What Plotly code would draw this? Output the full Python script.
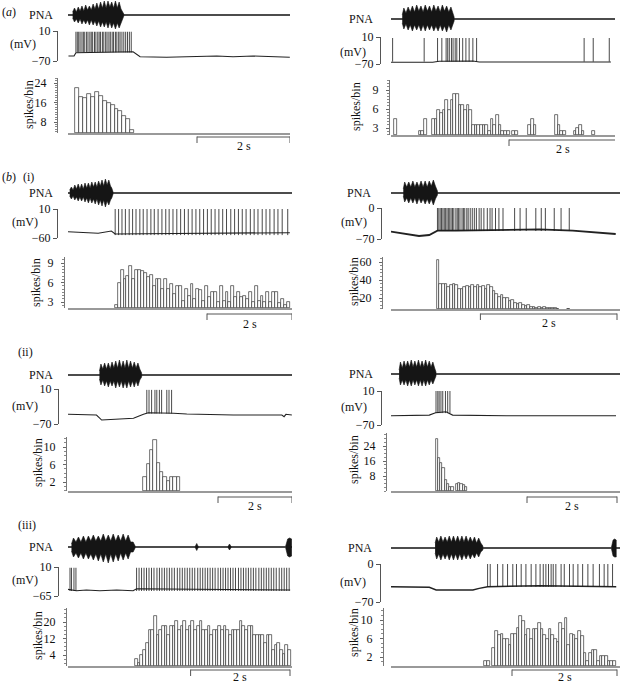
import plotly.graph_objects as go

# ======================= DATA =======================
# time in s, membrane potential in mV, PNA in arbitrary units, histogram in spikes/bin

# ---------- (a) left ----------
aL_pna_t  = [[0.10, 0.14, 0.18, 0.22, 0.26, 0.30, 0.34, 0.38, 0.42, 0.46, 0.50, 0.54, 0.58, 0.62, 0.66,
              0.70, 0.74, 0.78, 0.82, 0.86, 0.90, 0.94, 0.98, 1.02, 1.06, 1.10, 1.14, 1.17, 1.20]]
aL_pna_hi = [[3, 7, 3, 8, 4, 9, 4, 10, 5, 9, 5, 11, 6, 12, 6, 13, 7, 14, 7, 14, 8, 13, 7, 14, 7, 13, 6, 4, 1]]
aL_pna_lo = [[-3, -7, -4, -8, -4, -9, -5, -9, -5, -10, -5, -10, -6, -11, -6, -12, -7, -12, -7, -13, -7, -13,
              -8, -14, -8, -13, -7, -5, -1]]
aL_vm_t = [0.01, 0.13, 0.17, 1.40, 1.55, 2.12, 3.20, 3.55, 3.98, 4.77]
aL_vm_v = [-56.7, -56.7, -47.9, -45.2, -58.5, -60.1, -56.7, -58.5, -56.7, -60.1]
aL_spikes = [0.17, 0.20, 0.23, 0.26, 0.30, 0.33, 0.36, 0.40, 0.43, 0.47, 0.50, 0.53, 0.57, 0.60, 0.64,
             0.67, 0.70, 0.74, 0.77, 0.81, 0.84, 0.88, 0.91, 0.95, 0.98, 1.02, 1.05, 1.09, 1.12, 1.16,
             1.20, 1.24, 1.28, 1.32, 1.36]
aL_spike_base, aL_spike_peak = -47, 8
aL_hist_t0, aL_hist_w = 0.15, 0.085
aL_hist = [22.1, 18.1, 17.8, 19.5, 18.1, 20.4, 18.5, 16.8, 16.0, 14.9, 13.5, 12.5, 10.6, 9.2, 4.8]
aL_vm_ticks = [10, -70]
aL_hist_ticks = [8, 16, 24]

# ---------- (a) right ----------
aR_pna_t  = [[0.21, 0.24, 0.28, 0.32, 0.36, 0.40, 0.44, 0.48, 0.52, 0.56, 0.60, 0.64, 0.68, 0.72, 0.76,
              0.80, 0.84, 0.88, 0.92, 0.96, 1.00, 1.04, 1.08, 1.12, 1.15, 1.18]]
aR_pna_hi = [[4, 11, 6, 12, 7, 13, 7, 14, 8, 13, 7, 14, 8, 13, 7, 14, 8, 13, 7, 14, 8, 13, 7, 12, 7, 2]]
aR_pna_lo = [[-4, -10, -5, -11, -6, -12, -6, -11, -6, -12, -6, -12, -6, -11, -6, -12, -7, -12, -6, -12,
              -7, -13, -6, -11, -6, -2]]
aR_vm_t = [0.00, 0.78, 0.90, 1.53, 1.65, 2.77, 4.11]
aR_vm_v = [-65, -65, -62, -61, -64, -65, -64]
aR_spikes = [0.03, 0.62, 0.87, 0.95, 1.03, 1.06, 1.09, 1.13, 1.16, 1.20, 1.23, 1.28, 1.34, 1.40,
             1.46, 1.53, 1.60, 3.61, 3.78, 4.08]
aR_spike_base, aR_spike_peak = -63, 7
aR_hist_t0, aR_hist_w = 0.015, 0.05
aR_hist = [0, 4.4, 0, 0, 0, 0, 0, 0, 0, 0,
           2.6, 2.6, 4.4, 0, 0, 4.4, 4.4, 5.9, 5.3, 5.9,
           7.4, 5.9, 7.4, 8.3, 8.3, 6.7, 6.7, 5.9, 6.7, 5.9,
           3.5, 3.5, 3.5, 3.5, 3.5, 3.5, 2.6, 4.4, 3.5, 5.1,
           3.5, 2.6, 2.6, 2.6, 0, 2.6, 2.6, 0, 0, 0,
           0, 3.5, 4.4, 3.5, 0, 0, 0, 0, 0, 0,
           0, 5.1, 3.5, 2.6, 2.6, 0, 0, 0, 2.6, 3.0,
           3.5, 2.6, 0, 0, 0, 2.6, 0, 0, 0, 0, 0]
aR_vm_ticks = [10, -70]
aR_hist_ticks = [3, 6, 9]

# ---------- (b)(i) left ----------
biL_pna_t  = [[0.04, 0.08, 0.12, 0.16, 0.20, 0.24, 0.28, 0.32, 0.36, 0.40, 0.44, 0.48, 0.52, 0.56,
               0.60, 0.64, 0.68, 0.72, 0.76, 0.80, 0.84, 0.88, 0.92, 0.96, 1.00, 1.03, 1.06]]
biL_pna_hi = [[3, 6, 3, 8, 4, 9, 4, 9, 4, 10, 5, 10, 5, 11, 6, 11, 6, 12, 7, 13, 7, 14, 8, 13, 7, 5, 1]]
biL_pna_lo = [[-3, -6, -3, -7, -4, -8, -4, -8, -4, -9, -5, -10, -5, -10, -6, -11, -6, -12, -7, -13,
               -7, -14, -8, -12, -7, -5, -1]]
biL_vm_t = [0.00, 0.31, 0.71, 1.02, 1.11, 2.50, 4.00, 5.22]
biL_vm_v = [-44.8, -47.2, -48.6, -43.1, -50.3, -49.0, -49.0, -47.2]
biL_spikes = [1.11, 1.19, 1.27, 1.35, 1.44, 1.52, 1.60, 1.69, 1.77, 1.86, 1.95, 2.03, 2.12, 2.21,
              2.30, 2.38, 2.47, 2.56, 2.65, 2.74, 2.83, 2.92, 3.01, 3.10, 3.19, 3.28, 3.37, 3.46,
              3.55, 3.64, 3.73, 3.83, 3.92, 4.01, 4.10, 4.19, 4.29, 4.38, 4.47, 4.57, 4.66, 4.75,
              4.85, 4.94, 5.04, 5.17]
biL_spike_base, biL_spike_peak = -53, 10
biL_hist_t0, biL_hist_w = 1.10, 0.0686
biL_hist = [2.5, 6.0, 8.0, 6.5, 7.0, 8.5, 6.5, 8.0, 8.0, 7.8, 7.5, 6.8, 7.2, 5.5, 6.5, 6.5, 5.0, 6.5,
            5.0, 5.8, 4.2, 5.5, 5.5, 3.2, 5.0, 4.0, 5.8, 3.5, 5.0, 4.8, 3.2, 5.5, 3.8, 4.5, 4.5, 3.0,
            5.5, 3.2, 4.5, 3.0, 5.5, 3.8, 4.5, 3.8, 4.0, 3.5, 4.5, 3.0, 5.5, 3.2, 4.0, 3.0, 4.5, 3.0,
            4.5, 4.5, 2.8, 3.5, 2.5, 3.0]
biL_vm_ticks = [10, -60]
biL_hist_ticks = [3, 6, 9]

# ---------- (b)(i) right ----------
biR_pna_t  = [[0.18, 0.20, 0.23, 0.26, 0.29, 0.32, 0.35, 0.38, 0.41, 0.44, 0.47, 0.50, 0.53, 0.56,
               0.59, 0.62, 0.65, 0.68]]
biR_pna_hi = [[4, 11, 6, 11, 6, 12, 6, 11, 6, 12, 6, 12, 6, 12, 7, 13, 7, 2]]
biR_pna_lo = [[-3, -9, -5, -10, -5, -10, -5, -11, -5, -10, -6, -11, -6, -11, -6, -12, -6, -2]]
biR_vm_t = [0.00, 0.22, 0.41, 0.56, 0.68, 0.95, 1.44, 2.17, 2.66, 3.29]
biR_vm_v = [-53.5, -58.7, -63.2, -61.0, -51.3, -51.3, -49.7, -48.1, -51.3, -58.7]
biR_spikes = [0.68, 0.70, 0.72, 0.74, 0.76, 0.78, 0.80, 0.82, 0.84, 0.86, 0.88, 0.90, 0.92, 0.95,
              0.97, 0.99, 1.01, 1.04, 1.06, 1.08, 1.11, 1.13, 1.16, 1.19,
              1.22, 1.25, 1.29, 1.32, 1.36, 1.41, 1.45, 1.48, 1.53, 1.58,
              1.64, 1.81, 1.89, 1.98, 2.12, 2.20, 2.26, 2.39, 2.49, 2.61]
biR_spike_base, biR_spike_peak = -52, 0
biR_hist_t0, biR_hist_w = 0.67, 0.039
biR_hist = [61.8, 36, 36, 36, 32, 35, 36, 35, 30, 30, 32, 33, 32, 34, 32, 34, 32, 33, 30, 34,
            32, 28, 24, 21, 23, 20, 20, 17, 18, 15, 13, 14, 12, 11, 12, 10, 10.5, 9, 10, 9,
            9.5, 9, 8.5, 8.5, 8.5, 8.2, 0, 0, 0, 8.2]
biR_vm_ticks = [0, -70]
biR_hist_ticks = [20, 40, 60]

# ---------- (b)(ii) left ----------
biiL_pna_t  = [[0.85, 0.89, 0.94, 0.99, 1.04, 1.09, 1.14, 1.19, 1.24, 1.29, 1.34, 1.39, 1.44, 1.49,
                1.54, 1.59, 1.64, 1.69, 1.74, 1.79, 1.84, 1.89, 1.94, 1.99]]
biiL_pna_hi = [[4, 11, 6, 12, 6, 12, 6, 13, 7, 14, 7, 15, 7, 14, 7, 15, 7, 14, 7, 13, 7, 12, 6, 2]]
biiL_pna_lo = [[-4, -10, -5, -11, -6, -12, -6, -11, -6, -13, -6, -12, -6, -13, -7, -13, -6, -12,
                -6, -12, -6, -11, -5, -2]]
biiL_vm_t = [0.00, 0.77, 0.91, 1.32, 1.77, 2.04, 2.17, 2.85, 3.21, 4.47, 5.78, 5.84, 5.89, 6.05]
biiL_vm_v = [-47.8, -49.4, -60.9, -58.6, -57.0, -47.8, -44.2, -45.5, -47.1, -49.4, -49.4, -53.3, -47.8, -49.4]
biiL_spikes = [2.13, 2.19, 2.26, 2.35, 2.40, 2.47, 2.53, 2.67, 2.73, 2.80]
biiL_spike_base, biiL_spike_peak = -46, 8
biiL_hist_t0, biiL_hist_w = 2.04, 0.09
biiL_hist = [3.1, 6.2, 9.4, 11.5, 6.3, 4.4, 3.1, 2.2, 3.1, 3.1, 3.1]
biiL_vm_ticks = [10, -70]
biiL_hist_ticks = [2, 6, 10]

# ---------- (b)(ii) right ----------
biiR_pna_t  = [[0.18, 0.21, 0.25, 0.29, 0.33, 0.37, 0.41, 0.45, 0.49, 0.53, 0.57, 0.61, 0.65, 0.69,
                0.73, 0.77, 0.81, 0.85, 0.89, 0.93, 0.97, 1.00]]
biiR_pna_hi = [[4, 12, 6, 13, 7, 13, 7, 14, 7, 13, 7, 14, 7, 13, 7, 14, 7, 13, 7, 12, 6, 2]]
biiR_pna_lo = [[-4, -11, -6, -11, -6, -12, -6, -12, -6, -11, -6, -12, -6, -12, -6, -12, -6, -11,
                -6, -10, -5, -2]]
biiR_vm_t = [0.00, 0.85, 0.99, 1.22, 1.37, 2.56, 5.00]
biiR_vm_v = [-48.3, -46.7, -41.3, -39.0, -46.7, -48.3, -48.3]
biiR_spikes = [1.00, 1.04, 1.07, 1.11, 1.15, 1.21, 1.26, 1.31]
biiR_spike_base, biiR_spike_peak = -42, 10
biiR_hist_t0, biiR_hist_w = 0.99, 0.05
biiR_hist = [27.6, 17.8, 14.8, 12.4, 6.0, 3.5, 2.0, 2.0, 0, 3.5, 4.3, 3.5, 3.0, 2.4]
biiR_vm_ticks = [10, -70]
biiR_hist_ticks = [8, 16, 24]

# ---------- (b)(iii) left ----------
biiiL_pna_t  = [[0.07, 0.11, 0.16, 0.21, 0.26, 0.31, 0.36, 0.41, 0.46, 0.51, 0.56, 0.61, 0.66, 0.71,
                 0.76, 0.81, 0.86, 0.91, 0.96, 1.01, 1.06, 1.11, 1.16, 1.21, 1.26, 1.31, 1.35],
                [2.56, 2.59, 2.62], [3.22, 3.25, 3.28], [4.38, 4.42, 4.46, 4.50]]
biiiL_pna_hi = [[3, 9, 5, 10, 5, 11, 5, 11, 6, 12, 6, 11, 6, 13, 6, 12, 6, 13, 6, 12, 6, 13, 6, 12, 5, 5, 1],
                [0.5, 3.5, 0.5], [0.5, 3.0, 0.5], [1.0, 8.0, 9.0, 8.0]]
biiiL_pna_lo = [[-4, -10, -6, -11, -6, -12, -6, -12, -7, -13, -7, -14, -7, -15, -7, -16, -7, -15,
                 -7, -14, -6, -13, -6, -12, -5, -5, -1],
                [-0.5, -3.5, -0.5], [-0.5, -3.0, -0.5], [-1.0, -9.0, -10.0, -9.0]]
biiiL_vm_t = [0.00, 0.17, 0.37, 0.64, 0.98, 1.31, 1.38, 4.47]
biiiL_vm_v = [-47.8, -51.4, -49.6, -51.4, -49.6, -51.4, -46.3, -49.6]
biiiL_spikes = [0.04, 0.07, 0.12, 0.16,
                1.38, 1.43, 1.48, 1.53, 1.58, 1.63, 1.68, 1.73, 1.79, 1.84, 1.89, 1.94, 1.99, 2.04,
                2.09, 2.14, 2.20, 2.25, 2.30, 2.35, 2.40, 2.45, 2.50, 2.55, 2.61, 2.66, 2.71, 2.76,
                2.81, 2.86, 2.91, 2.96, 3.02, 3.07, 3.12, 3.17, 3.22, 3.27, 3.32, 3.37, 3.43, 3.48,
                3.53, 3.58, 3.63, 3.68, 3.73, 3.78, 3.84, 3.89, 3.94, 3.99, 4.04, 4.09, 4.14, 4.19,
                4.25, 4.30, 4.35, 4.40, 4.45]
biiiL_spike_base, biiiL_spike_peak = -52, 8
biiiL_hist_t0, biiiL_hist_w = 1.35, 0.054
biiiL_hist = [2.0, 0, 4.0, 6.4, 9.6, 16, 16, 22.7, 13.6, 16, 18, 18, 13.6, 18, 18, 20.5, 16, 18, 20.5,
              16, 18, 20.5, 16, 18, 20.5, 16, 16, 18, 13.6, 16, 16, 18, 16, 18, 16, 13.6, 16, 16, 16,
              20.5, 18, 16, 18, 18, 13.6, 13.6, 13.6, 13.6, 10, 13.6, 13.6, 6.4, 8.8, 10, 6.4, 4.5,
              8.8, 6.4]
biiiL_vm_ticks = [10, -65]
biiiL_hist_ticks = [4, 12, 20]

# ---------- (b)(iii) right ----------
biiiR_pna_t  = [[0.84, 0.87, 0.91, 0.95, 0.99, 1.03, 1.07, 1.11, 1.15, 1.19, 1.23, 1.27, 1.31, 1.35,
                 1.39, 1.43, 1.47, 1.51, 1.55, 1.59, 1.63, 1.67, 1.71, 1.75],
                [4.20, 4.23, 4.26, 4.29]]
biiiR_pna_hi = [[5, 11, 6, 12, 6, 11, 6, 12, 6, 12, 6, 12, 6, 12, 6, 12, 6, 11, 6, 11, 5, 10, 5, 2],
                [1.0, 8.0, 9.0, 8.0]]
biiiR_pna_lo = [[-5, -11, -6, -12, -6, -11, -6, -12, -6, -12, -6, -12, -6, -12, -6, -11, -6, -11,
                 -6, -10, -5, -9, -4, -2],
                [-1.0, -8.0, -9.0, -9.0]]
biiiR_vm_t = [0.00, 0.73, 0.86, 1.56, 1.68, 1.84, 2.83, 4.29]
biiiR_vm_v = [-41.8, -42.9, -47.9, -47.9, -44.8, -41.8, -40.0, -41.8]
biiiR_spikes = [1.84, 1.89, 2.03, 2.13, 2.22, 2.32, 2.39, 2.48, 2.57, 2.67, 2.76, 2.84, 2.90, 2.95,
                3.00, 3.05, 3.09, 3.14, 3.24, 3.30, 3.40, 3.47, 3.56, 3.65, 3.75, 3.85, 3.97, 4.06,
                4.13, 4.22]
biiiR_spike_base, biiiR_spike_peak = -42, 0
biiiR_hist_t0, biiiR_hist_w = 1.78, 0.051
biiiR_hist = [1.1, 1.1, 0, 4.0, 7.7, 6.8, 7.0, 5.8, 5.8, 4.7, 7.0, 7.0, 8.2, 10.9, 9.8, 6.8, 8.1, 5.8,
              8.1, 8.1, 9.3, 8.1, 6.8, 5.8, 8.1, 6.8, 5.8, 5.3, 9.3, 8.1, 10.4, 4.7, 7.0, 6.8, 6.0,
              7.7, 6.5, 2.9, 1.1, 2.9, 3.6, 3.6, 1.1, 2.2, 2.2, 2.2, 1.1, 1.1, 1.1]
biiiR_vm_ticks = [0, -70]
biiiR_hist_ticks = [2, 6, 10]

SCALE_BAR_S = 2  # scale bar length in seconds

# ======================= LAYOUT (pixel geometry) =======================
W, H = 621, 684
SERIF = "Liberation Serif"
FS = 12

def fx(x):
    return x / W

def fy(y):
    return 1 - y / H

DATA = [
    dict(pt=aL_pna_t, ph=aL_pna_hi, pl=aL_pna_lo, vt=aL_vm_t, vv=aL_vm_v, sp=aL_spikes,
         sb=aL_spike_base, spk=aL_spike_peak, h0=aL_hist_t0, hw=aL_hist_w, h=aL_hist,
         vtk=aL_vm_ticks, htk=aL_hist_ticks),
    dict(pt=aR_pna_t, ph=aR_pna_hi, pl=aR_pna_lo, vt=aR_vm_t, vv=aR_vm_v, sp=aR_spikes,
         sb=aR_spike_base, spk=aR_spike_peak, h0=aR_hist_t0, hw=aR_hist_w, h=aR_hist,
         vtk=aR_vm_ticks, htk=aR_hist_ticks),
    dict(pt=biL_pna_t, ph=biL_pna_hi, pl=biL_pna_lo, vt=biL_vm_t, vv=biL_vm_v, sp=biL_spikes,
         sb=biL_spike_base, spk=biL_spike_peak, h0=biL_hist_t0, hw=biL_hist_w, h=biL_hist,
         vtk=biL_vm_ticks, htk=biL_hist_ticks),
    dict(pt=biR_pna_t, ph=biR_pna_hi, pl=biR_pna_lo, vt=biR_vm_t, vv=biR_vm_v, sp=biR_spikes,
         sb=biR_spike_base, spk=biR_spike_peak, h0=biR_hist_t0, hw=biR_hist_w, h=biR_hist,
         vtk=biR_vm_ticks, htk=biR_hist_ticks),
    dict(pt=biiL_pna_t, ph=biiL_pna_hi, pl=biiL_pna_lo, vt=biiL_vm_t, vv=biiL_vm_v, sp=biiL_spikes,
         sb=biiL_spike_base, spk=biiL_spike_peak, h0=biiL_hist_t0, hw=biiL_hist_w, h=biiL_hist,
         vtk=biiL_vm_ticks, htk=biiL_hist_ticks),
    dict(pt=biiR_pna_t, ph=biiR_pna_hi, pl=biiR_pna_lo, vt=biiR_vm_t, vv=biiR_vm_v, sp=biiR_spikes,
         sb=biiR_spike_base, spk=biiR_spike_peak, h0=biiR_hist_t0, hw=biiR_hist_w, h=biiR_hist,
         vtk=biiR_vm_ticks, htk=biiR_hist_ticks),
    dict(pt=biiiL_pna_t, ph=biiiL_pna_hi, pl=biiiL_pna_lo, vt=biiiL_vm_t, vv=biiiL_vm_v, sp=biiiL_spikes,
         sb=biiiL_spike_base, spk=biiiL_spike_peak, h0=biiiL_hist_t0, hw=biiiL_hist_w, h=biiiL_hist,
         vtk=biiiL_vm_ticks, htk=biiiL_hist_ticks),
    dict(pt=biiiR_pna_t, ph=biiiR_pna_hi, pl=biiiR_pna_lo, vt=biiiR_vm_t, vv=biiiR_vm_v, sp=biiiR_spikes,
         sb=biiiR_spike_base, spk=biiiR_spike_peak, h0=biiiR_hist_t0, hw=biiiR_hist_w, h=biiiR_hist,
         vtk=biiiR_vm_ticks, htk=biiiR_hist_ticks),
]

# pixel geometry of each panel
GEOM = [
    dict(x0=68, x1=290, pxps=46.5, pna_y=15, lab_x=55, vm_ax=57, vm_a=31, vm_b=61, mv_y=44, mv_x=38, vw=1.1,
         h_ax=57, h_a=83, h_b=122, h_base=133, h_top=78, sb_x1=290, sb_y=137, sb_ly=146, spl=(29, 105), mdt=1),
    dict(x0=391, x1=615, pxps=53.5, pna_y=19, lab_x=375, vm_ax=380, vm_a=37, vm_b=64, mv_y=52, mv_x=368, vw=1.1,
         h_ax=389, h_a=90, h_b=128, h_base=135, h_top=80, sb_x1=616, sb_y=140, sb_ly=149, spl=(356, 107), mdt=0.5),
    dict(x0=68, x1=292, pxps=42.5, pna_y=193, lab_x=55, vm_ax=57, vm_a=209, vm_b=238, mv_y=222, mv_x=40, vw=1.1,
         h_ax=64, h_a=263, h_b=302, h_base=308, h_top=257, sb_x1=292, sb_y=314, sb_ly=324, spl=(36, 283), mdt=0.5),
    dict(x0=391, x1=620, pxps=68.3, pna_y=193, lab_x=373, vm_ax=381, vm_a=208, vm_b=239, mv_y=222, mv_x=369, vw=1.8,
         h_ax=382, h_a=262, h_b=298, h_base=309, h_top=257, sb_x1=617, sb_y=314, sb_ly=323, spl=(354, 282), mdt=4),
    dict(x0=68, x1=292, pxps=37.0, pna_y=375, lab_x=55, vm_ax=58, vm_a=389, vm_b=424, mv_y=406, mv_x=40, vw=1.1,
         h_ax=66, h_a=447, h_b=482, h_base=491, h_top=437, sb_x1=292, sb_y=497, sb_ly=506, spl=(38, 463), mdt=1),
    dict(x0=391, x1=620, pxps=45.0, pna_y=374, lab_x=375, vm_ax=381, vm_a=391, vm_b=425, mv_y=407, mv_x=369, vw=1.1,
         h_ax=386, h_a=446, h_b=476, h_base=491, h_top=433, sb_x1=617, sb_y=497, sb_ly=506, spl=(354, 460), mdt=2),
    dict(x0=68, x1=292, pxps=49.7, pna_y=547, lab_x=55, vm_ax=58, vm_a=567, vm_b=596, mv_y=580, mv_x=40, vw=1.1,
         h_ax=66, h_a=622, h_b=655, h_base=666, h_top=608, sb_x1=290, sb_y=670, sb_ly=677, spl=(38, 636), mdt=2),
    dict(x0=391, x1=620, pxps=52.5, pna_y=548, lab_x=374, vm_ax=380, vm_a=564, vm_b=602, mv_y=582, mv_x=368, vw=1.4,
         h_ax=383, h_a=620, h_b=657, h_base=666, h_top=608, sb_x1=617, sb_y=670, sb_ly=677, spl=(354, 633), mdt=1),
]

PNA_HALF = 16  # half-height (px) of the PNA strip, equal to its half-range in a.u.


def fmt(v):
    return str(v).replace("-", "\u2212")


def lin_range(va, pa, vb, pb, top_px, bot_px):
    s = (va - vb) / (pb - pa)
    return [vb - (bot_px - pb) * s, va + (pa - top_px) * s]


fig = go.Figure()
layout = dict(
    template="none",
    width=W, height=H, margin=dict(l=0, r=0, t=0, b=0, pad=0, autoexpand=False),
    paper_bgcolor="white", plot_bgcolor="rgba(0,0,0,0)",
    showlegend=False, bargap=0, barmode="overlay",
    font=dict(family=SERIF, size=FS, color="#111"),
)
shapes, annos = [], []


def aid(k):
    return "" if k == 1 else str(k)


axis_off = dict(visible=False, showgrid=False, zeroline=False, fixedrange=True, automargin=False)

for p, (g, d) in enumerate(zip(GEOM, DATA)):
    T = (g["x1"] - g["x0"]) / g["pxps"]
    xdom = [fx(g["x0"]), fx(g["x1"])]
    kp, kv, kh = 3 * p + 1, 3 * p + 2, 3 * p + 3

    # ---- PNA strip ----
    top_px = max(0, g["pna_y"] - PNA_HALF)
    layout["xaxis" + aid(kp)] = dict(axis_off, domain=xdom, range=[0, T], anchor="y" + aid(kp))
    layout["yaxis" + aid(kp)] = dict(axis_off, domain=[fy(g["pna_y"] + PNA_HALF), fy(top_px)],
                                     range=[-PNA_HALF, g["pna_y"] - top_px], anchor="x" + aid(kp))
    fig.add_trace(go.Scatter(x=[0, T], y=[0, 0], mode="lines", line=dict(color="#111", width=1.7),
                             xaxis="x" + aid(kp), yaxis="y" + aid(kp), hoverinfo="skip"))
    px_, py_ = [], []
    for bt, bh, bl in zip(d["pt"], d["ph"], d["pl"]):
        px_ += list(bt) + list(bt[::-1]) + [None]
        py_ += list(bh) + list(bl[::-1]) + [None]
    fig.add_trace(go.Scatter(x=px_, y=py_, mode="lines", fill="toself", fillcolor="#151515",
                             line=dict(color="#151515", width=0.6),
                             xaxis="x" + aid(kp), yaxis="y" + aid(kp), hoverinfo="skip"))
    annos.append(dict(text="PNA", x=fx(g["lab_x"]), y=fy(g["pna_y"]), xref="paper", yref="paper",
                      xanchor="right", yanchor="middle", showarrow=False))

    # ---- membrane potential strip ----
    vtop, vbot = d["vtk"][0], d["vtk"][1]
    layout["xaxis" + aid(kv)] = dict(axis_off, domain=xdom, range=[0, T], anchor="y" + aid(kv))
    layout["yaxis" + aid(kv)] = dict(
        domain=[fy(g["vm_b"]), fy(g["vm_a"])], range=[vbot, vtop], anchor="free",
        position=fx(g["vm_ax"]), showline=True, linecolor="#555", linewidth=1,
        ticks="outside", ticklen=4, tickcolor="#555", tickvals=d["vtk"],
        ticktext=[fmt(v) for v in d["vtk"]], showgrid=False, zeroline=False, fixedrange=True,
        automargin=False, tickfont=dict(family=SERIF, size=FS, color="#111"))
    fig.add_trace(go.Scatter(x=d["vt"], y=d["vv"], mode="lines", line=dict(color="#222", width=g["vw"]),
                             xaxis="x" + aid(kv), yaxis="y" + aid(kv), hoverinfo="skip"))
    sx, sy = [], []
    for t in d["sp"]:
        sx += [t, t, None]
        sy += [d["sb"], d["spk"], None]
    fig.add_trace(go.Scatter(x=sx, y=sy, mode="lines", line=dict(color="#1a1a1a", width=0.8),
                             xaxis="x" + aid(kv), yaxis="y" + aid(kv), hoverinfo="skip"))
    annos.append(dict(text="(mV)", x=fx(g["mv_x"]), y=fy(g["mv_y"]), xref="paper", yref="paper",
                      xanchor="right", yanchor="middle", showarrow=False))

    # ---- histogram strip ----
    ta, tb = d["htk"][-1], d["htk"][0]
    yr = lin_range(ta, g["h_a"], tb, g["h_b"], g["h_top"], g["h_base"])
    layout["xaxis" + aid(kh)] = dict(domain=xdom, range=[0, T], anchor="y" + aid(kh), showline=True,
                                     linecolor="#999", linewidth=1.5, showticklabels=False, ticks="",
                                     showgrid=False, zeroline=False, fixedrange=True, automargin=False)
    layout["yaxis" + aid(kh)] = dict(
        domain=[fy(g["h_base"]), fy(g["h_top"])], range=yr, anchor="free", position=fx(g["h_ax"]),
        showline=True, linecolor="#777", linewidth=1, ticks="outside", ticklen=3, tickcolor="#666",
        tickvals=d["htk"], ticktext=[str(v) for v in d["htk"]], ticklabelstandoff=5,
        minor=dict(ticks="outside", ticklen=2, dtick=g["mdt"], tickcolor="#888"),
        showgrid=False, zeroline=False, fixedrange=True, automargin=False,
        tickfont=dict(family=SERIF, size=FS, color="#111"))
    centers, heights = [], []
    for i, v in enumerate(d["h"]):
        if v > yr[0]:
            centers.append(d["h0"] + (i + 0.5) * d["hw"])
            heights.append(v - yr[0])
    fig.add_trace(go.Bar(x=centers, y=heights, base=yr[0], width=d["hw"],
                         marker=dict(color="white", line=dict(color="#333", width=0.7)),
                         xaxis="x" + aid(kh), yaxis="y" + aid(kh), hoverinfo="skip"))
    annos.append(dict(text="spikes/bin", x=fx(g["spl"][0]), y=fy(g["spl"][1]), xref="paper", yref="paper",
                      xanchor="center", yanchor="middle", textangle=-90, showarrow=False))

    # ---- 2 s scale bar ----
    t1 = (g["sb_x1"] - g["x0"]) / g["pxps"]
    t0 = t1 - SCALE_BAR_S
    xr = "x" + aid(kh)
    ln = dict(color="#555", width=1)
    shapes.append(dict(type="line", xref=xr, yref="paper", x0=t0, x1=t1, y0=fy(g["sb_y"]), y1=fy(g["sb_y"]), line=ln))
    for tt in (t0, t1):
        shapes.append(dict(type="line", xref=xr, yref="paper", x0=tt, x1=tt,
                           y0=fy(g["sb_y"] - 0.5), y1=fy(g["sb_y"] + 6), line=ln))
    annos.append(dict(text=f"{SCALE_BAR_S} s", x=(t0 + t1) / 2, y=fy(g["sb_ly"]), xref=xr, yref="paper",
                      xanchor="center", yanchor="middle", showarrow=False))

# panel letters
for txt, x, y in [("(<i>a</i>)", 0, 12), ("(<i>b</i>)", 0, 177), ("(i)", 21, 177),
                  ("(ii)", 16, 352), ("(iii)", 16, 525)]:
    annos.append(dict(text=txt, x=fx(x), y=fy(y), xref="paper", yref="paper",
                      xanchor="left", yanchor="middle", showarrow=False))

layout["shapes"] = shapes
layout["annotations"] = annos
fig.update_layout(**layout)
fig.write_html("out.html", config={"displayModeBar": False},
               post_script="document.body.style.margin='0px';document.body.style.overflow='hidden';")
